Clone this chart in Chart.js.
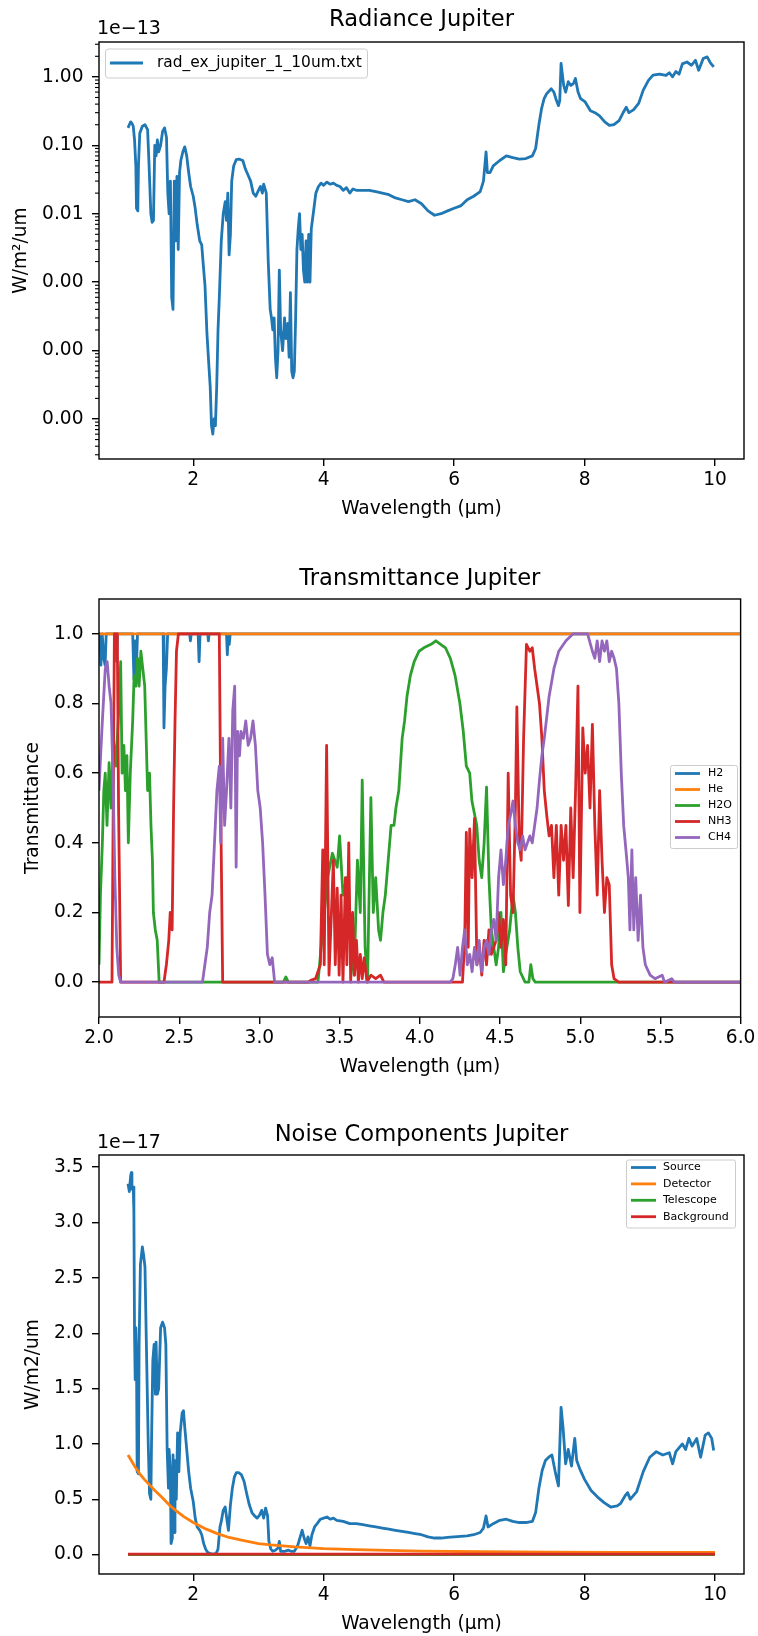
<!DOCTYPE html>
<html><head><meta charset="utf-8">
<script src="https://cdn.jsdelivr.net/npm/chart.js@4.4.0/dist/chart.umd.min.js"></script>
<style>
html,body{margin:0;padding:0;background:#fff;}
#wrap{position:relative;width:758px;height:1636px;overflow:hidden;background:#fff;}
canvas{position:absolute;left:0;}
</style></head><body>
<div id="wrap">
<canvas id="c1" width="758" height="545" style="top:0px"></canvas>
<canvas id="c2" width="758" height="545" style="top:545px"></canvas>
<canvas id="c3" width="758" height="546" style="top:1090px"></canvas>
</div>
<script>
// ---------------- DATA ----------------
// Radiance Jupiter (values in units of 1e-13 W/m²/um)
const radWavelength = [1.00,1.02,1.04,1.06,1.08,1.10,1.12,1.13,1.15,1.16,1.18,1.22,1.26,1.30,1.32,1.35,1.37,1.39,1.41,1.43,1.45,1.47,1.50,1.53,1.56,1.59,1.61,1.63,1.65,1.67,1.69,1.71,1.73,1.75,1.77,1.79,1.81,1.84,1.87,1.90,1.93,1.96,2.00,2.03,2.06,2.10,2.13,2.15,2.18,2.21,2.24,2.26,2.28,2.30,2.32,2.34,2.36,2.38,2.40,2.43,2.46,2.49,2.51,2.53,2.55,2.57,2.59,2.62,2.66,2.70,2.76,2.80,2.85,2.88,2.92,2.96,3.00,3.03,3.06,3.08,3.12,3.15,3.18,3.20,3.22,3.24,3.26,3.28,3.30,3.32,3.34,3.37,3.40,3.42,3.45,3.47,3.49,3.51,3.53,3.55,3.57,3.59,3.61,3.63,3.65,3.67,3.69,3.71,3.73,3.75,3.77,3.79,3.81,3.84,3.88,3.92,3.96,4.00,4.05,4.10,4.15,4.20,4.25,4.30,4.35,4.40,4.45,4.50,4.60,4.70,4.80,4.90,5.00,5.10,5.20,5.30,5.40,5.50,5.60,5.70,5.80,5.90,6.00,6.10,6.20,6.30,6.40,6.45,6.49,6.51,6.55,6.60,6.70,6.80,6.90,7.00,7.10,7.20,7.25,7.30,7.34,7.38,7.42,7.49,7.53,7.56,7.60,7.62,7.64,7.68,7.71,7.75,7.79,7.83,7.86,7.90,7.94,8.01,8.09,8.16,8.23,8.31,8.38,8.45,8.53,8.60,8.64,8.68,8.75,8.83,8.90,8.98,9.05,9.15,9.25,9.30,9.35,9.40,9.45,9.50,9.57,9.64,9.70,9.75,9.82,9.88,9.93,9.98];
const radValue = [0.18,0.20,0.22,0.21,0.19,0.12,0.05,0.012,0.011,0.05,0.15,0.19,0.20,0.17,0.06,0.01,0.0075,0.008,0.10,0.07,0.12,0.08,0.10,0.16,0.18,0.13,0.02,0.01,0.03,0.0006,0.0004,0.03,0.004,0.035,0.003,0.04,0.06,0.08,0.095,0.07,0.04,0.025,0.018,0.012,0.007,0.004,0.0035,0.002,0.0009,0.00018,0.00006,0.00003,0.000008,0.000006,0.00001,0.000008,0.00003,0.0002,0.0006,0.004,0.010,0.015,0.008,0.020,0.0025,0.005,0.030,0.050,0.062,0.063,0.060,0.045,0.035,0.030,0.020,0.018,0.022,0.025,0.020,0.027,0.020,0.002,0.0004,0.0003,0.0002,0.0003,0.00008,0.00004,0.0001,0.0015,0.0002,0.0001,0.0003,0.00015,0.00025,0.00008,0.0007,0.00005,0.00004,0.00005,0.0003,0.003,0.006,0.010,0.003,0.005,0.0015,0.001,0.004,0.001,0.005,0.001,0.006,0.010,0.020,0.025,0.028,0.026,0.029,0.027,0.028,0.026,0.025,0.022,0.024,0.020,0.023,0.022,0.022,0.022,0.021,0.020,0.019,0.017,0.016,0.015,0.016,0.014,0.011,0.0095,0.010,0.011,0.012,0.013,0.016,0.018,0.021,0.030,0.080,0.040,0.040,0.050,0.060,0.070,0.066,0.063,0.064,0.070,0.090,0.20,0.34,0.48,0.57,0.67,0.60,0.48,0.38,0.45,1.57,0.75,0.60,0.85,0.75,0.80,0.95,0.60,0.48,0.43,0.32,0.30,0.27,0.22,0.195,0.20,0.23,0.31,0.36,0.30,0.33,0.41,0.64,0.89,1.06,1.10,1.05,1.15,1.00,1.20,1.10,1.55,1.65,1.48,1.75,1.25,1.86,1.96,1.60,1.40];
const radXTicks = [2,4,6,8,10];
const radYTicks = [0.00001,0.0001,0.001,0.01,0.1,1];

// Transmittance Jupiter
const h2Wavelength = [1.90,2.005,2.012,2.020,2.030,2.038,2.045,2.105,2.110,2.115,2.210,2.218,2.225,2.232,2.240,2.400,2.405,2.412,2.420,2.428,2.565,2.570,2.575,2.618,2.624,2.630,2.678,2.682,2.686,2.795,2.800,2.806,2.812,2.818,6.10];
const h2Value = [1.0,1.0,0.91,1.0,0.93,0.91,1.0,1.0,0.92,1.0,1.0,0.87,0.98,0.88,1.0,1.0,0.73,0.85,0.90,1.0,1.0,0.98,1.0,1.0,0.92,1.0,1.0,0.98,1.0,1.0,0.94,1.0,0.97,1.0,1.0];
const heWavelength = [1.90,2.5,3.0,4.0,5.0,6.10];
const heValue = [1.0,1.0,1.0,1.0,1.0,1.0];
const h2oWavelength = [2.000,2.009,2.021,2.030,2.039,2.050,2.063,2.075,2.090,2.105,2.120,2.135,2.144,2.155,2.165,2.174,2.183,2.195,2.210,2.219,2.230,2.240,2.250,2.261,2.273,2.285,2.294,2.303,2.315,2.324,2.333,2.339,2.351,2.363,2.375,3.150,3.165,3.180,3.365,3.395,3.425,3.455,3.485,3.500,3.521,3.545,3.569,3.590,3.611,3.629,3.641,3.659,3.674,3.695,3.710,3.725,3.743,3.755,3.770,3.785,3.803,3.821,3.839,3.851,3.869,3.890,3.905,3.920,3.941,3.965,3.995,4.025,4.070,4.100,4.130,4.160,4.190,4.220,4.250,4.271,4.290,4.311,4.325,4.355,4.370,4.386,4.401,4.416,4.431,4.446,4.461,4.476,4.491,4.506,4.521,4.536,4.560,4.581,4.596,4.611,4.626,4.656,4.680,4.692,4.705,4.720,6.100];
const h2oValue = [0.05,0.25,0.40,0.55,0.60,0.45,0.63,0.50,0.70,0.62,0.75,0.92,0.60,0.68,0.55,0.65,0.40,0.60,0.75,0.88,0.85,0.93,0.85,0.95,0.90,0.85,0.70,0.55,0.60,0.45,0.35,0.20,0.15,0.12,0.00,0.00,0.015,0.00,0.00,0.15,0.30,0.37,0.33,0.42,0.25,0.30,0.10,0.02,0.35,0.20,0.58,0.10,0.00,0.53,0.20,0.30,0.15,0.12,0.20,0.25,0.35,0.45,0.45,0.50,0.55,0.70,0.75,0.82,0.88,0.92,0.95,0.96,0.97,0.98,0.97,0.96,0.93,0.88,0.80,0.72,0.62,0.60,0.52,0.45,0.35,0.30,0.40,0.56,0.30,0.15,0.10,0.05,0.10,0.20,0.03,0.08,0.15,0.25,0.20,0.10,0.03,0.00,0.00,0.05,0.01,0.00,0.00];
const nh3Wavelength = [2.000,2.081,2.090,2.096,2.114,2.122,2.135,2.405,2.420,2.435,2.444,2.456,2.465,2.474,2.483,2.495,2.750,2.759,2.771,3.305,3.320,3.350,3.380,3.395,3.404,3.419,3.434,3.449,3.461,3.473,3.485,3.497,3.509,3.521,3.536,3.545,3.557,3.569,3.581,3.593,3.605,3.617,3.629,3.641,3.653,3.671,3.695,3.725,3.755,3.776,4.266,4.280,4.290,4.302,4.311,4.326,4.341,4.356,4.371,4.386,4.401,4.416,4.431,4.446,4.476,4.491,4.506,4.521,4.536,4.551,4.566,4.581,4.596,4.605,4.620,4.632,4.647,4.665,4.686,4.701,4.716,4.731,4.746,4.761,4.776,4.791,4.806,4.821,4.836,4.851,4.866,4.881,4.896,4.911,4.926,4.941,4.956,4.971,4.986,4.998,5.016,5.031,5.046,5.061,5.076,5.091,5.106,5.121,5.136,5.151,5.166,5.181,5.196,5.211,5.240,6.100];
const nh3Value = [0.0,0.0,0.6,1.0,1.0,0.5,0.0,0.0,0.05,0.12,0.20,0.15,0.50,0.75,0.95,1.00,1.00,0.50,0.00,0.00,0.005,0.01,0.05,0.38,0.05,0.68,0.02,0.20,0.35,0.05,0.27,0.02,0.25,0.00,0.30,0.05,0.40,0.00,0.20,0.02,0.12,0.00,0.08,0.01,0.07,0.00,0.02,0.01,0.02,0.00,0.00,0.12,0.43,0.10,0.44,0.30,0.47,0.05,0.10,0.02,0.12,0.05,0.15,0.08,0.12,0.20,0.10,0.18,0.05,0.60,0.25,0.20,0.50,0.79,0.40,0.35,0.70,0.97,0.95,0.96,0.90,0.85,0.80,0.70,0.55,0.48,0.42,0.45,0.30,0.45,0.25,0.45,0.35,0.45,0.22,0.50,0.30,0.55,0.85,0.20,0.73,0.60,0.68,0.50,0.74,0.45,0.25,0.55,0.35,0.20,0.30,0.28,0.05,0.01,0.00,0.00];
const ch4Wavelength = [2.000,2.010,2.021,2.039,2.051,2.063,2.075,2.087,2.099,2.111,2.123,2.135,2.645,2.660,2.675,2.690,2.705,2.720,2.735,2.750,2.759,2.771,2.783,2.795,2.810,2.822,2.834,2.846,2.855,2.864,2.876,2.885,2.900,2.915,2.930,2.945,2.960,2.975,2.990,3.005,3.020,3.035,3.050,3.065,3.080,3.095,4.190,4.206,4.221,4.236,4.251,4.266,4.280,4.296,4.311,4.326,4.341,4.356,4.370,4.386,4.401,4.416,4.431,4.446,4.461,4.476,4.491,4.506,4.521,4.536,4.551,4.566,4.581,4.596,4.611,4.626,4.641,4.656,4.671,4.686,4.701,4.716,4.731,4.746,4.761,4.776,4.806,4.836,4.866,4.911,4.956,5.001,5.046,5.076,5.091,5.106,5.121,5.136,5.151,5.166,5.181,5.196,5.211,5.226,5.241,5.256,5.271,5.285,5.300,5.310,5.322,5.334,5.346,5.361,5.376,5.391,5.406,5.436,5.466,5.511,5.526,5.570,5.586,6.100];
const ch4Value = [0.55,0.65,0.75,0.90,0.92,0.85,0.80,0.60,0.30,0.10,0.02,0.00,0.00,0.05,0.10,0.20,0.25,0.40,0.55,0.62,0.40,0.70,0.45,0.55,0.70,0.50,0.78,0.85,0.33,0.72,0.65,0.72,0.70,0.75,0.68,0.70,0.75,0.68,0.55,0.50,0.40,0.25,0.08,0.05,0.07,0.00,0.00,0.01,0.05,0.10,0.02,0.10,0.15,0.05,0.08,0.03,0.10,0.05,0.12,0.03,0.10,0.12,0.08,0.15,0.18,0.12,0.30,0.38,0.28,0.35,0.45,0.48,0.52,0.45,0.40,0.38,0.42,0.38,0.40,0.42,0.40,0.45,0.50,0.58,0.65,0.70,0.82,0.90,0.95,0.98,1.00,1.00,1.00,0.95,0.93,0.98,0.92,0.98,0.95,0.98,0.92,0.95,0.93,0.90,0.80,0.60,0.45,0.38,0.30,0.15,0.38,0.15,0.30,0.12,0.25,0.10,0.05,0.02,0.01,0.02,0.00,0.01,0.00,0.00];
const transXTicks = [2.0,2.5,3.0,3.5,4.0,4.5,5.0,5.5,6.0];
const transYTicks = [0.0,0.2,0.4,0.6,0.8,1.0];

// Noise Components Jupiter (values in units of 1e-17 W/m2/um)
const srcWavelength = [1.00,1.02,1.04,1.05,1.06,1.08,1.09,1.10,1.11,1.12,1.13,1.14,1.16,1.17,1.19,1.22,1.24,1.26,1.28,1.31,1.33,1.35,1.36,1.38,1.40,1.42,1.43,1.45,1.47,1.50,1.53,1.56,1.58,1.60,1.62,1.63,1.65,1.66,1.68,1.69,1.71,1.72,1.74,1.76,1.78,1.80,1.83,1.85,1.87,1.90,1.93,1.96,2.00,2.03,2.06,2.10,2.13,2.16,2.19,2.22,2.26,2.30,2.35,2.38,2.41,2.43,2.46,2.49,2.52,2.54,2.57,2.60,2.63,2.66,2.70,2.74,2.78,2.82,2.86,2.90,2.94,2.98,3.02,3.05,3.08,3.11,3.14,3.16,3.19,3.22,3.26,3.30,3.32,3.34,3.40,3.46,3.50,3.55,3.60,3.64,3.67,3.70,3.73,3.76,3.79,3.82,3.86,3.90,3.95,4.00,4.05,4.10,4.15,4.20,4.30,4.40,4.50,4.60,4.70,4.80,4.90,5.00,5.10,5.20,5.30,5.40,5.50,5.60,5.70,5.80,5.90,6.00,6.10,6.20,6.30,6.40,6.45,6.49,6.52,6.60,6.70,6.80,6.90,7.00,7.10,7.20,7.25,7.30,7.35,7.40,7.45,7.50,7.55,7.60,7.64,7.67,7.71,7.75,7.80,7.85,7.88,7.93,8.00,8.10,8.20,8.30,8.40,8.50,8.55,8.62,8.66,8.70,8.80,8.90,9.00,9.10,9.20,9.30,9.35,9.40,9.50,9.55,9.60,9.65,9.72,9.78,9.85,9.90,9.95,9.98];
const srcValue = [3.35,3.28,3.42,3.45,3.30,3.32,3.10,2.0,1.58,2.05,1.8,0.75,0.73,1.9,2.62,2.78,2.7,2.6,1.95,1.0,0.55,0.5,1.0,1.75,1.9,1.45,1.92,1.45,1.5,2.05,2.1,2.05,1.9,0.95,0.6,0.95,0.75,0.1,0.15,0.9,0.2,0.85,0.5,1.1,0.75,1.1,1.28,1.3,1.15,0.95,0.75,0.6,0.48,0.33,0.25,0.22,0.18,0.10,0.05,0.02,0.01,0.005,0.01,0.05,0.25,0.3,0.4,0.43,0.3,0.22,0.45,0.6,0.7,0.74,0.74,0.72,0.66,0.55,0.45,0.38,0.35,0.33,0.36,0.40,0.33,0.42,0.35,0.12,0.05,0.03,0.04,0.06,0.12,0.03,0.03,0.04,0.03,0.03,0.08,0.16,0.22,0.15,0.1,0.16,0.08,0.18,0.25,0.28,0.32,0.33,0.34,0.32,0.33,0.31,0.30,0.28,0.28,0.27,0.26,0.25,0.24,0.23,0.22,0.21,0.20,0.19,0.18,0.16,0.15,0.15,0.155,0.16,0.165,0.17,0.18,0.20,0.24,0.35,0.25,0.28,0.31,0.32,0.30,0.29,0.29,0.30,0.38,0.60,0.76,0.85,0.88,0.90,0.75,0.62,1.33,1.15,0.82,0.95,0.80,1.05,0.85,0.77,0.68,0.58,0.52,0.47,0.43,0.44,0.46,0.53,0.56,0.50,0.57,0.75,0.88,0.93,0.90,0.92,0.82,0.93,1.0,0.95,1.05,0.98,1.05,0.88,1.08,1.10,1.05,0.94];
const detWavelength = [1.00,1.05,1.10,1.18,1.25,1.33,1.41,1.50,1.63,1.75,1.85,2.00,2.20,2.37,2.55,2.74,3.00,3.19,3.56,4.00,4.50,4.97,5.50,6.45,7.50,8.50,10.00];
const detValue = [0.90,0.85,0.80,0.73,0.68,0.63,0.58,0.53,0.45,0.39,0.345,0.29,0.23,0.19,0.155,0.13,0.10,0.088,0.07,0.055,0.045,0.038,0.032,0.026,0.022,0.020,0.019];
const telWavelength = [1.0,4.0,7.0,10.0];
const telValue = [0.0,0.0,0.0,0.0];
const bkgWavelength = [1.0,4.0,7.0,10.0];
const bkgValue = [0.005,0.005,0.005,0.005];
const noiseXTicks = [2,4,6,8,10];
const noiseYTicks = [0.0,0.5,1.0,1.5,2.0,2.5,3.0,3.5];

// ---------------- RENDERING ----------------
const FONT = 'DejaVu Sans';
const COL = {blue:'#1f77b4', orange:'#ff7f0e', green:'#2ca02c', red:'#d62728', purple:'#9467bd'};
const pts = (xs, ys) => xs.map((x, i) => ({x: x, y: ys[i]}));
const LW = 2.8;

function roundRect(ctx, x, y, w, h, r) {
  ctx.beginPath();
  ctx.moveTo(x + r, y);
  ctx.lineTo(x + w - r, y); ctx.arcTo(x + w, y, x + w, y + r, r);
  ctx.lineTo(x + w, y + h - r); ctx.arcTo(x + w, y + h, x + w - r, y + h, r);
  ctx.lineTo(x + r, y + h); ctx.arcTo(x, y + h, x, y + h - r, r);
  ctx.lineTo(x, y + r); ctx.arcTo(x, y, x + r, y, r);
  ctx.closePath();
}

const decor = {
  id: 'decor',
  afterDraw(chart, args, o) {
    const ctx = chart.ctx, a = chart.chartArea;
    ctx.save();
    if (o.minorLog) {
      const s = chart.scales.y;
      ctx.strokeStyle = '#000'; ctx.lineWidth = 1.1;
      for (let d = -8; d <= 1; d++) {
        for (let k = 2; k <= 9; k++) {
          const v = k * Math.pow(10, d);
          if (v < s.min || v > s.max) continue;
          const py = s.getPixelForValue(v);
          ctx.beginPath(); ctx.moveTo(a.left - 4, py); ctx.lineTo(a.left, py); ctx.stroke();
        }
      }
    }
    ctx.strokeStyle = '#000'; ctx.lineWidth = 1.4;
    ctx.strokeRect(a.left, a.top, a.right - a.left, a.bottom - a.top);
    ctx.fillStyle = '#000';
    ctx.textAlign = 'center'; ctx.textBaseline = 'alphabetic';
    ctx.font = '22.6px "' + FONT + '"';
    ctx.fillText(o.title, (a.left + a.right) / 2, o.titleY);
    if (o.offsetText) {
      ctx.textAlign = 'left';
      ctx.font = '19px "' + FONT + '"';
      ctx.fillText(o.offsetText, o.offsetX, o.offsetY);
    }
    const L = o.legend;
    if (L) {
      roundRect(ctx, L.x, L.y, L.w, L.h, L.r);
      ctx.fillStyle = 'rgba(255,255,255,0.8)'; ctx.fill();
      ctx.strokeStyle = '#cccccc'; ctx.lineWidth = 1; ctx.stroke();
      ctx.font = L.size + 'px "' + FONT + '"';
      ctx.textAlign = 'left'; ctx.textBaseline = 'middle';
      chart.data.datasets.forEach((ds, i) => {
        const y = L.y0 + i * L.dy;
        ctx.strokeStyle = ds.borderColor; ctx.lineWidth = LW; ctx.lineCap = 'butt';
        ctx.beginPath(); ctx.moveTo(L.hx0, y); ctx.lineTo(L.hx1, y); ctx.stroke();
        ctx.fillStyle = '#000';
        ctx.fillText(ds.label, L.tx, y);
      });
    }
    ctx.restore();
  }
};

const tickFont = {family: FONT, size: 18.6, lineHeight: 1.2};
const gridOpts = {display: true, drawOnChartArea: false, drawTicks: true, tickLength: 7, tickWidth: 1.4, lineWidth: 1.4, tickColor: '#000', color: '#000'};

function xScale(min, max, ticks, fmt, h, titlePad) {
  return {
    type: 'linear', min: min, max: max, bounds: 'data',
    afterBuildTicks: s => { s.ticks = ticks.map(v => ({value: v})); },
    afterFit: s => { s.height = h; },
    ticks: {callback: fmt, autoSkip: false, maxRotation: 0, minRotation: 0, padding: 2.6, color: '#000', font: tickFont},
    grid: gridOpts, border: {display: false},
    title: {display: true, text: 'Wavelength (μm)', color: '#000', font: tickFont, padding: {top: 0, bottom: titlePad}}
  };
}
function yScale(type, min, max, ticks, fmt, text, titlePad) {
  return {
    type: type, min: min, max: max, bounds: 'data',
    afterBuildTicks: s => { s.ticks = ticks.map(v => ({value: v})); },
    afterFit: s => { s.width = 99; },
    ticks: {callback: fmt, autoSkip: false, padding: 8.5, color: '#000', font: tickFont},
    grid: gridOpts, border: {display: false},
    title: {display: true, text: text, color: '#000', font: tickFont, padding: {top: titlePad, bottom: 0}}
  };
}
function ds(label, xs, ys, color, order) {
  return {label: label, data: pts(xs, ys), borderColor: color, backgroundColor: color,
    borderWidth: LW, pointRadius: 0, pointHoverRadius: 0, tension: 0, clip: 0, fill: false,
    borderJoinStyle: 'round', borderCapStyle: 'butt', order: order};
}
function baseOptions(padTop, scales, decorOpts) {
  return {
    responsive: false, animation: false, devicePixelRatio: 1, events: [],
    layout: {padding: {top: padTop, right: 14, bottom: 0, left: 0}, autoPadding: false},
    scales: scales,
    plugins: {legend: {display: false}, tooltip: {enabled: false}, title: {display: false}, decor: decorOpts}
  };
}

// Chart 1: Radiance
new Chart(document.getElementById('c1'), {
  type: 'line',
  data: {datasets: [ds('rad_ex_jupiter_1_10um.txt', radWavelength, radValue, COL.blue, 0)]},
  options: baseOptions(42, {
    x: xScale(0.555, 10.445, radXTicks, v => String(v), 86, 24.8),
    y: yScale('logarithmic', Math.pow(10, -5.585), Math.pow(10, 0.51), radYTicks, v => Number(v).toFixed(2), 'W/m²/um', 9.8)
  }, {
    title: 'Radiance Jupiter', titleY: 26, offsetText: '1e\u221213', offsetX: 97, offsetY: 34, minorLog: true,
    legend: {x: 105.5, y: 49, w: 262, h: 29, r: 3, size: 15.4, y0: 63, dy: 0, hx0: 110, hx1: 143, tx: 157}
  }),
  plugins: [decor]
});

// Chart 2: Transmittance
new Chart(document.getElementById('c2'), {
  type: 'line',
  data: {datasets: [
    ds('H2', h2Wavelength, h2Value, COL.blue, 4),
    ds('He', heWavelength, heValue, COL.orange, 3),
    ds('H2O', h2oWavelength, h2oValue, COL.green, 2),
    ds('NH3', nh3Wavelength, nh3Value, COL.red, 1),
    ds('CH4', ch4Wavelength, ch4Value, COL.purple, 0)
  ]},
  options: baseOptions(54, {
    x: xScale(2.0, 6.0, transXTicks, v => Number(v).toFixed(1), 73, 11.8),
    y: yScale('linear', -0.1, 1.1, transYTicks, v => Number(v).toFixed(1), 'Transmittance', 21.8)
  }, {
    title: 'Transmittance Jupiter', titleY: 40,
    legend: {x: 670.5, y: 220.5, w: 67, h: 83, r: 2, size: 11, y0: 228.5, dy: 16, hx0: 675, hx1: 700, tx: 708}
  }),
  plugins: [decor]
});

// Chart 3: Noise components
new Chart(document.getElementById('c3'), {
  type: 'line',
  data: {datasets: [
    ds('Source', srcWavelength, srcValue, COL.blue, 3),
    ds('Detector', detWavelength, detValue, COL.orange, 2),
    ds('Telescope', telWavelength, telValue, COL.green, 1),
    ds('Background', bkgWavelength, bkgValue, COL.red, 0)
  ]},
  options: baseOptions(65, {
    x: xScale(0.555, 10.445, noiseXTicks, v => String(v), 62, 0.8),
    y: yScale('linear', -0.175, 3.61, noiseYTicks, v => Number(v).toFixed(1), 'W/m2/um', 21.8)
  }, {
    title: 'Noise Components Jupiter', titleY: 51.3, offsetText: '1e\u221217', offsetX: 97, offsetY: 58.3,
    legend: {x: 626.5, y: 70, w: 109, h: 68, r: 2, size: 11, y0: 77.5, dy: 16.4, hx0: 631, hx1: 656, tx: 663}
  }),
  plugins: [decor]
});
</script>
</body></html>
